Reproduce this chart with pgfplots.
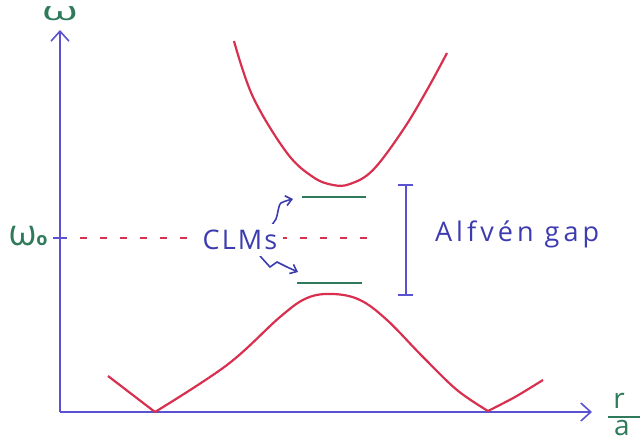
\documentclass[border=0pt]{standalone}
\usepackage{pgfplots}
\pgfplotsset{compat=1.18}
\usepackage{fontspec}
\setmainfont{Open Sans}
\newfontfamily\wide[LetterSpace=15]{Open Sans}
\newfontfamily\midw[LetterSpace=8]{Open Sans}
\usetikzlibrary{arrows.meta}
\definecolor{axblue}{HTML}{5A52D0}
\definecolor{crv}{HTML}{D8304F}
\definecolor{grn}{HTML}{2E7A5A}
\definecolor{txtblue}{HTML}{3C3CB0}
\begin{document}
\begin{tikzpicture}
\begin{axis}[width=321pt,height=220.5pt,scale only axis,
  xmin=0,xmax=642,ymin=0,ymax=441,hide axis,clip=false]
\addplot[draw=none] coordinates {(0,0)(642,441)};
\coordinate (bl) at (axis cs:0,0);
\coordinate (tr) at (axis cs:642,441);
% axes
\addplot[axblue,line width=0.8pt,-{Straight Barb[length=5pt,width=9pt]}] coordinates {(60,29)(60,411)};
\addplot[axblue,line width=0.8pt,-{Straight Barb[length=5pt,width=9pt]}] coordinates {(60,29)(592,29)};
\addplot[axblue,line width=0.8pt] coordinates {(53,203)(67,203)};
% dashed omega0
\addplot[crv,line width=0.9pt,dash pattern=on 3.5pt off 6.5pt] coordinates {(80,203)(380,203)};
% upper band
\addplot[crv,line width=1.1pt,smooth,tension=0.6] coordinates {(234,400)(253,344)(287,288)(313,264)(333,256)(350,257)(373,271)(403,311)(427,351)(447,388)};
% lower band
\addplot[crv,line width=1.1pt] coordinates {(108,65)(155,29)};
\addplot[crv,line width=1.1pt,smooth,tension=0.6] coordinates {(155,29)(227,76)(280,124)(307,143)(333,147)(360,141)(387,121)(423,84)(457,51)(488,30)};
\addplot[crv,line width=1.1pt,smooth] coordinates {(488,30)(515,44)(543,61)};
% CLMs (green)
\addplot[grn,line width=1.2pt] coordinates {(302,244)(366,244)};
\addplot[grn,line width=1.2pt] coordinates {(297,158)(362,158)};
% gap bar
\addplot[axblue,line width=0.8pt] coordinates {(406,256)(406,146)};
\addplot[axblue,line width=0.8pt] coordinates {(398,256)(413,256)};
\addplot[axblue,line width=0.8pt] coordinates {(398,146)(413,146)};
% squiggle arrows
\addplot[txtblue,line width=0.8pt,smooth,-{Straight Barb[length=3pt,width=5pt]}] coordinates {(268,211)(276,222)(278,230)(281,238)(293,242)};
\addplot[txtblue,line width=0.8pt,-{Straight Barb[length=3pt,width=5pt]}] coordinates {(260,185)(270,174)(277,179)(287,174)(298,169)};
% labels
\node[fill=white,inner sep=3pt,text=txtblue,font=\midw\fontsize{13.5}{14}\selectfont] at (axis cs:240,201) {CLMs};
\node[text=txtblue,font=\wide\fontsize{13.5}{14}\selectfont,anchor=base west] at (axis cs:428,199) {Alfvén gap};
\node[text=grn,inner sep=0pt,font=\fontsize{13}{15}\selectfont] at (axis cs:60,427) {\scalebox{1.8}[1]{ω}};
\node[text=grn,font=\fontsize{18}{20}\selectfont] at (axis cs:28,205) {ω\raisebox{0pt}{\fontsize{9}{9}\selectfont\textbf{o}}};
\node[text=grn,inner sep=0pt,font=\fontsize{14}{14}\selectfont] at (axis cs:619,40) {r};
\addplot[grn,line width=0.8pt] coordinates {(608,24)(640,24)};
\node[text=grn,inner sep=0pt,font=\fontsize{14}{14}\selectfont] at (axis cs:622,13) {a};
\end{axis}
\pgfresetboundingbox
\path[use as bounding box] (bl) rectangle (tr);
\end{tikzpicture}
\end{document}
